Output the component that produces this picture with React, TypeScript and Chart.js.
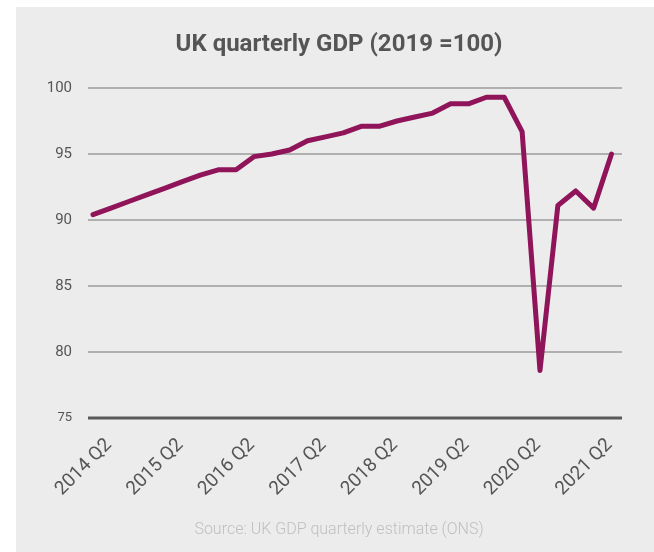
import { useEffect, useRef } from "react";
import { Chart, registerables } from "chart.js";

Chart.register(...registerables);

const quarters = [
  "2014 Q1", "2014 Q2", "2014 Q3", "2014 Q4",
  "2015 Q1", "2015 Q2", "2015 Q3", "2015 Q4",
  "2016 Q1", "2016 Q2", "2016 Q3", "2016 Q4",
  "2017 Q1", "2017 Q2", "2017 Q3", "2017 Q4",
  "2018 Q1", "2018 Q2", "2018 Q3", "2018 Q4",
  "2019 Q1", "2019 Q2", "2019 Q3", "2019 Q4",
  "2020 Q1", "2020 Q2", "2020 Q3", "2020 Q4",
  "2021 Q1", "2021 Q2",
];

const gdpIndex = [
  90.4, 90.9, 91.4, 91.9,
  92.4, 92.9, 93.4, 93.8,
  93.8, 94.8, 95.0, 95.3,
  96.0, 96.3, 96.6, 97.1,
  97.1, 97.5, 97.8, 98.1,
  98.8, 98.8, 99.3, 99.3,
  96.7, 78.6, 91.1, 92.2,
  90.9, 95.0,
];

const shownTickLabels = [
  "2014 Q2", "2015 Q2", "2016 Q2", "2017 Q2",
  "2018 Q2", "2019 Q2", "2020 Q2", "2021 Q2",
];

const yMin = 75;
const yMax = 100;
const yStep = 5;

const titleText = "UK quarterly GDP (2019 =100)";
const sourceText = "Source: UK GDP quarterly estimate (ONS)";

const gridPlugin = {
  id: "extendedGrid",
  beforeDatasetsDraw(chart: any) {
    const { ctx, chartArea, scales } = chart;
    const y = scales.y;
    ctx.save();
    y.ticks.forEach((t: any) => {
      const py = y.getPixelForValue(t.value);
      const isBase = t.value === yMin;
      ctx.beginPath();
      ctx.lineWidth = isBase ? 3 : 1.5;
      ctx.strokeStyle = isBase ? "#5a5a5a" : "#9d9d9d";
      ctx.moveTo(chartArea.left - 5, py);
      ctx.lineTo(chartArea.right + 10.5, py);
      ctx.stroke();
    });
    ctx.restore();
  },
};

export default function App() {
  const ref = useRef<HTMLCanvasElement | null>(null);

  useEffect(() => {
    if (!ref.current) return;
    const chart = new Chart(ref.current, {
      type: "line",
      data: {
        labels: quarters,
        datasets: [
          {
            data: gdpIndex,
            borderColor: "#8f1459",
            borderWidth: 5,
            borderJoinStyle: "round",
            borderCapStyle: "round",
            pointRadius: 0,
            tension: 0,
            fill: false,
            clip: false as any,
            yAxisID: "y",
          },
        ],
      },
      options: {
        responsive: false,
        animation: false,
        devicePixelRatio: 1,
        layout: { padding: 0 },
        plugins: {
          legend: { display: false },
          tooltip: { enabled: false },
          title: {
            display: true,
            text: titleText,
            color: "#555555",
            font: { family: "Roboto", size: 24, weight: "bold" },
            padding: { top: 23.3, bottom: 28.9 },
          },
          subtitle: {
            display: true,
            position: "bottom",
            text: sourceText,
            color: "#bfbfbf",
            font: { family: "Roboto", size: 16, weight: 300 },
            padding: { top: 0, bottom: 12.9 },
          },
        },
        scales: {
          x: {
            type: "category",
            offset: false,
            grid: { display: false, drawTicks: false },
            border: { display: false },
            afterFit(scale: any) {
              scale.height = 101.9;
            },
            ticks: {
              autoSkip: false,
              maxRotation: 45,
              minRotation: 45,
              padding: 16,
              labelOffset: -2,
              color: "#555555",
              font: { family: "Roboto", size: 19 },
              callback(this: any, value: any) {
                const lbl = this.getLabelForValue(value);
                return shownTickLabels.includes(lbl) ? lbl : null;
              },
            },
          },
          y: {
            min: yMin,
            max: yMax,
            grid: { display: false, drawTicks: false },
            border: { display: false },
            afterFit(scale: any) {
              scale.width = 69;
            },
            ticks: {
              stepSize: yStep,
              padding: 21,
              color: "#555555",
              font: (ctx: any) => ({
                family: "Roboto",
                size: ctx.tick && ctx.tick.value === yMin ? 13 : 15,
              }),
            },
          },
          yRightSpace: {
            type: "linear",
            position: "right",
            min: yMin,
            max: yMax,
            display: true,
            grid: { display: false, drawTicks: false },
            border: { display: false },
            ticks: { display: false },
            afterFit(scale: any) {
              scale.width = 42.5;
            },
          },
        },
      },
      plugins: [gridPlugin],
    });
    return () => chart.destroy();
  }, []);

  return (
    <div
      style={{
        position: "absolute",
        left: 16,
        top: 7,
        width: 638,
        height: 545,
        background: "#ececec",
      }}
    >
      <canvas
        ref={ref}
        width={630}
        height={545}
        style={{ position: "absolute", left: 8, top: 0, width: 630, height: 545 }}
      />
    </div>
  );
}
